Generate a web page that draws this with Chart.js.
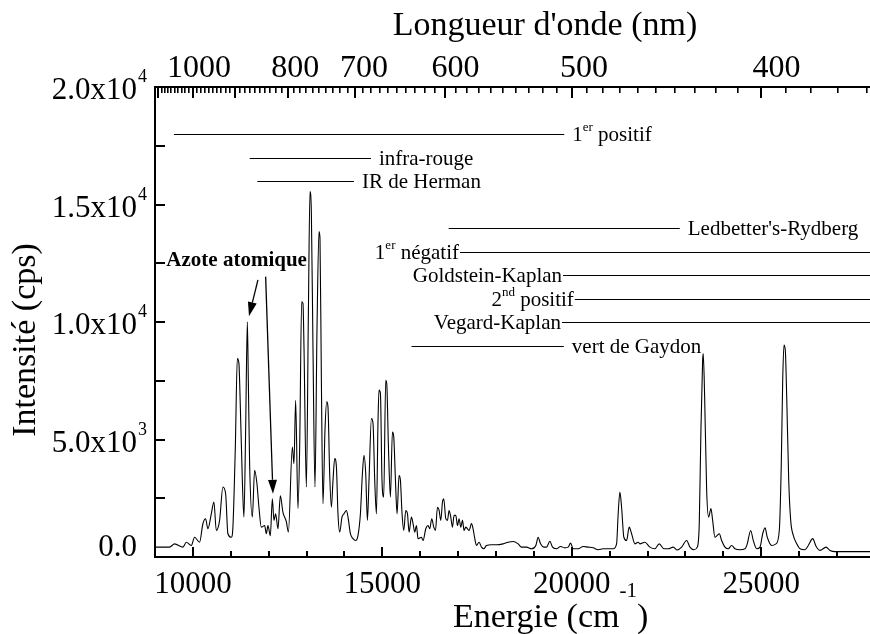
<!DOCTYPE html>
<html>
<head>
<meta charset="utf-8">
<script src="https://cdn.jsdelivr.net/npm/chart.js@4/dist/chart.umd.min.js"></script>
<style>
html,body{margin:0;padding:0;background:#fff;}
#wrap{width:870px;height:634px;position:relative;}
</style>
</head>
<body>
<div id="wrap"><canvas id="c" width="870" height="634"></canvas></div>
<script>
// ---------- data (energy in cm^-1, intensity in cps) ----------
const energy = [
  8990, 9385, 9517, 9736, 9826, 9958, 10045, 10177, 10264, 10335, 10396, 10486, 10555, 10618, 10705,
  10792, 10864, 10924, 11014, 11056, 11120, 11173, 11215, 11233, 11305, 11347, 11392, 11437, 11463,
  11497, 11569, 11629, 11690, 11743, 11806, 11894, 11938, 11981, 12044, 12097, 12139, 12184, 12245,
  12308, 12377, 12467, 12520, 12625, 12667, 12712, 12773, 12818, 12871, 12905, 12932, 12995, 13048,
  13090, 13127, 13169, 13222, 13275, 13328, 13354, 13391, 13433, 13486, 13531, 13565, 13610, 13655,
  13698, 13743, 13788, 13829, 13874, 13935, 13988, 14051, 14094, 14157, 14226, 14297, 14358, 14421,
  14474, 14516, 14561, 14606, 14648, 14712, 14754, 14799, 14844, 14886, 14912, 14949, 14991, 15036,
  15089, 15116, 15161, 15213, 15266, 15301, 15346, 15388, 15441, 15477, 15520, 15565, 15618, 15663,
  15705, 15768, 15810, 15855, 15900, 15942, 16032, 16074, 16146, 16206, 16251, 16304, 16357, 16402,
  16455, 16497, 16542, 16587, 16621, 16674, 16719, 16761, 16806, 16851, 16893, 16938, 16983, 17025,
  17070, 17115, 17157, 17202, 17247, 17289, 17353, 17395, 17440, 17485, 17553, 17617, 17677, 17748,
  17881, 18013, 18187, 18319, 18451, 18583, 18673, 18805, 18937, 19051, 19111, 19175, 19262, 19333,
  19421, 19492, 19598, 19703, 19817, 19904, 19967, 20036, 20168, 20300, 20432, 20564, 20696, 20828,
  20960, 21092, 21182, 21224, 21269, 21314, 21374, 21446, 21515, 21578, 21665, 21752, 21797, 21929,
  22061, 22193, 22307, 22431, 22545, 22677, 22782, 22899, 23031, 23118, 23224, 23311, 23364, 23408,
  23453, 23469, 23506, 23559, 23611, 23672, 23717, 23778, 23839, 23892, 23955, 24042, 24129, 24219,
  24306, 24438, 24570, 24631, 24721, 24790, 24880, 24967, 25038, 25099, 25159, 25275, 25389, 25476,
  25529, 25566, 25600, 25635, 25672, 25725, 25777, 25846, 25936, 26023, 26155, 26242, 26358, 26446,
  26552, 26710, 26815, 26948, 27079, 27870
];
const intensity = [
  420, 420, 560, 420, 630, 490, 840, 630, 1415, 1630, 1200, 1840, 2340, 1130, 1560,
  2980, 2690, 990, 840, 1270, 4680, 8450, 8240, 7520, 3260, 1700, 5390, 10010, 7520,
  3970, 1700, 3690, 3130, 2120, 1270, 1340, 990, 1340, 910, 2480, 1560, 1840, 1200,
  2600, 1900, 1500, 1060, 4680, 3970, 6670, 2060, 4680, 10860, 10790, 8940, 2980, 10370,
  15550, 14630, 8940, 2980, 9660, 13850, 13570, 7520, 2270, 5390, 6600, 6390, 3550, 2120,
  3260, 4190, 3830, 1840, 1060, 1700, 1840, 1980, 1700, 990, 780, 700, 920, 1840,
  3550, 4330, 3550, 1560, 3260, 5890, 5680, 3260, 1840, 5820, 7100, 6960, 3260, 2550,
  7520, 7380, 4680, 2550, 5320, 5110, 3260, 1840, 3470, 3260, 1840, 1130, 1980, 1840,
  1060, 1700, 1420, 1060, 1340, 780, 840, 700, 1200, 1340, 1200, 1630, 1270, 1130,
  2120, 1990, 1560, 2340, 2480, 1630, 1560, 1980, 1700, 1270, 1770, 1770, 1340, 1630,
  1270, 1560, 1130, 1270, 1200, 1130, 1420, 1200, 780, 490, 630, 420, 350, 490,
  520, 520, 560, 630, 660, 560, 420, 420, 350, 490, 840, 560, 420, 420,
  670, 420, 350, 450, 390, 420, 590, 350, 350, 450, 420, 390, 310, 350,
  350, 350, 560, 1840, 2760, 2120, 840, 700, 1270, 990, 560, 630, 560, 630,
  420, 350, 560, 350, 350, 420, 300, 420, 700, 420, 310, 420, 1420, 5390,
  8380, 8660, 6810, 2840, 1700, 2060, 1560, 840, 920, 990, 700, 420, 350, 490,
  350, 310, 350, 560, 1130, 700, 350, 420, 990, 1240, 840, 490, 560, 1130,
  3970, 7520, 9020, 8800, 6810, 3260, 1560, 920, 560, 350, 310, 490, 780, 460,
  280, 420, 280, 230, 230, 230
];

// ---------- axes ----------
const xMin = 9000, xMax = 27870;
const yMin = 0, yMax = 20000;
const xMajorTicks = [10000, 15000, 20000, 25000];
const xMinorStep = 1000;
const yMajorTicks = [0, 5000, 10000, 15000, 20000];
const yMinorStep = 2500;
const yTickMantissa = ['0.0', '5.0x10', '1.0x10', '1.5x10', '2.0x10'];
const yTickExponent = ['', '3', '4', '4', '4'];
const wavelengthLabeled = [1000, 800, 700, 600, 500, 400];
const wavelengthMajor = [1100, 1000, 900, 800, 700, 600, 500, 400];
const wavelengthMinorStep = 10;
const wavelengthFirst = 1110, wavelengthLast = 350;

// ---------- band annotations ----------
const bandNames = ['1^{er} positif', 'infra-rouge', 'IR de Herman', "Ledbetter's-Rydberg",
  '1^{er} négatif', 'Goldstein-Kaplan', '2^{nd} positif', 'Vegard-Kaplan', 'vert de Gaydon'];
const bandStart = [9500, 11500, 11700, 16750, 17050, 19770, 20080, 19740, 15770];
const bandEnd   = [19800, 14700, 14250, 22850, xMax, xMax, xMax, xMax, 19790];
const bandLevel = [18000, 17000, 16000, 14000, 13000, 12000, 11000, 10000, 9000];
const bandLabelSide = ['right', 'right', 'right', 'right', 'left', 'left', 'left', 'left', 'right'];

const noteText = 'Azote atomique';
const noteAt = [9300, 12380];
const arrowFrom = [[11717, 11790], [11920, 11930]];
const arrowTo   = [[11480, 10250], [12113, 2690]];

const FONT = '"Liberation Serif","Times New Roman",Times,serif';
function font(size, bold) { return (bold ? 'bold ' : '') + size + 'px ' + FONT; }

function parseRich(str) {
  const parts = [];
  const re = /\^\{([^}]*)\}/g;
  let last = 0, m;
  while ((m = re.exec(str)) !== null) {
    if (m.index > last) parts.push({t: str.slice(last, m.index), sup: false});
    parts.push({t: m[1], sup: true});
    last = re.lastIndex;
  }
  if (last < str.length) parts.push({t: str.slice(last), sup: false});
  return parts;
}
function drawRich(ctx, str, x, y, size, align, opts) {
  opts = opts || {};
  const supSize = opts.supSize || Math.round(size * 0.62);
  const raise = opts.raise || size * 0.45;
  const parts = parseRich(str);
  let w = 0;
  parts.forEach(p => { ctx.font = font(p.sup ? supSize : size, opts.bold); p.w = ctx.measureText(p.t).width; w += p.w; });
  let cx = align === 'right' ? x - w : (align === 'center' ? x - w / 2 : x);
  ctx.textAlign = 'left';
  ctx.textBaseline = 'alphabetic';
  parts.forEach(p => {
    ctx.font = font(p.sup ? supSize : size, opts.bold);
    ctx.fillText(p.t, cx, p.sup ? y - raise : y);
    cx += p.w;
  });
  return w;
}

const bgPlugin = {
  id: 'bg',
  beforeDraw(chart) {
    const c = chart.ctx; c.save(); c.fillStyle = '#fff'; c.fillRect(0, 0, chart.width, chart.height); c.restore();
  }
};

const decor = {
  id: 'decor',
  afterDraw(chart) {
    const ctx = chart.ctx, xs = chart.scales.x, ys = chart.scales.y, ca = chart.chartArea;
    const top = Math.round(ca.top), bottom = Math.round(ca.bottom), left = Math.round(ca.left), right = Math.round(ca.right);
    ctx.save();
    ctx.strokeStyle = '#000'; ctx.fillStyle = '#000';

    // axis lines (2px)
    ctx.fillRect(left - 1, top - 1, 2, bottom - top + 2);
    ctx.fillRect(left - 1, bottom - 1, right - left + 1, 2);
    ctx.fillRect(left - 1, top - 1, right - left + 1, 2);

    // bottom ticks (inward, pointing up)
    for (let v = Math.ceil(xs.min / xMinorStep) * xMinorStep; v <= xs.max; v += xMinorStep) {
      const px = Math.round(xs.getPixelForValue(v));
      if (px <= left + 2) continue;
      const len = xMajorTicks.includes(v) ? 10 : 6;
      ctx.fillRect(px - 1, bottom - len, 2, len);
    }
    // left ticks (inward, pointing right)
    for (let v = yMin; v <= yMax; v += yMinorStep) {
      const py = Math.round(ys.getPixelForValue(v));
      if (py <= top + 2 || py >= bottom - 2) continue;
      ctx.fillRect(left, py - 1, 10, 2);
    }
    // top ticks (wavelength, inward, pointing down)
    for (let lam = wavelengthFirst; lam >= wavelengthLast; lam -= wavelengthMinorStep) {
      const e = 1e7 / lam;
      if (e < xs.min || e > xs.max) continue;
      const px = Math.round(xs.getPixelForValue(e));
      if (px <= left + 2) continue;
      const major = wavelengthMajor.includes(lam);
      ctx.fillRect(px - 1, top, major ? 2 : 1.6, major ? 11 : 6);
    }

    // bottom tick labels
    ctx.font = font(31);
    ctx.textAlign = 'center'; ctx.textBaseline = 'alphabetic';
    xMajorTicks.forEach(v => ctx.fillText(String(v), xs.getPixelForValue(v), 593));

    // left tick labels
    yMajorTicks.forEach((v, i) => {
      const py = ys.getPixelForValue(v);
      const base = (v === 0 ? py - 1 : py + 12);
      ctx.font = font(31); ctx.textAlign = 'right';
      ctx.fillText(yTickMantissa[i], 137, base);
      if (yTickExponent[i]) {
        ctx.font = font(18); ctx.textAlign = 'left';
        ctx.fillText(yTickExponent[i], 138, base - 17);
      }
    });

    // top tick labels (wavelength in nm)
    ctx.font = font(32); ctx.textAlign = 'center';
    wavelengthLabeled.forEach(lam => {
      const e = 1e7 / lam * 1.016;
      ctx.fillText(String(lam), xs.getPixelForValue(e), 77);
    });

    // titles
    ctx.font = font(34); ctx.textAlign = 'center';
    ctx.fillText("Longueur d'onde (nm)", 545, 35);
    drawRich(ctx, 'Energie (cm^{-1})', 453, 627, 34, 'left', {supSize: 21, raise: 30});
    ctx.save();
    ctx.translate(35, 340);
    ctx.rotate(-Math.PI / 2);
    ctx.font = font(34); ctx.textAlign = 'center';
    ctx.fillText('Intensité (cps)', 0, 0);
    ctx.restore();

    // band lines and labels
    ctx.lineWidth = 1;
    bandNames.forEach((name, i) => {
      const x1 = xs.getPixelForValue(bandStart[i]);
      const x2 = Math.min(xs.getPixelForValue(bandEnd[i]), ca.right);
      const y = Math.round(ys.getPixelForValue(bandLevel[i])) + 0.5;
      ctx.beginPath(); ctx.moveTo(x1, y); ctx.lineTo(x2, y); ctx.stroke();
      if (bandLabelSide[i] === 'right') {
        drawRich(ctx, name, x2 + 8, y + 6.5, 21, 'left', {supSize: 13, raise: 10});
      } else {
        drawRich(ctx, name, x1 - 1, y + 6.5, 21, 'right', {supSize: 13, raise: 10});
      }
    });

    // atomic nitrogen note
    ctx.font = font(21, true); ctx.textAlign = 'left';
    ctx.fillText(noteText, xs.getPixelForValue(noteAt[0]), ys.getPixelForValue(noteAt[1]));

    // arrows
    arrowFrom.forEach((f, i) => {
      const x0 = xs.getPixelForValue(f[0]), y0 = ys.getPixelForValue(f[1]);
      const x1 = xs.getPixelForValue(arrowTo[i][0]), y1 = ys.getPixelForValue(arrowTo[i][1]);
      const ang = Math.atan2(y1 - y0, x1 - x0);
      const hl = 14, hw = 4.5;
      const bx = x1 - hl * Math.cos(ang), by = y1 - hl * Math.sin(ang);
      ctx.lineWidth = 1.3;
      ctx.beginPath(); ctx.moveTo(x0, y0); ctx.lineTo(bx, by); ctx.stroke();
      ctx.beginPath();
      ctx.moveTo(x1, y1);
      ctx.lineTo(bx + hw * Math.sin(ang), by - hw * Math.cos(ang));
      ctx.lineTo(bx - hw * Math.sin(ang), by + hw * Math.cos(ang));
      ctx.closePath(); ctx.fill();
    });

    ctx.restore();
  }
};

new Chart(document.getElementById('c'), {
  type: 'line',
  data: {
    datasets: [{
      data: energy.map((e, i) => ({x: e, y: intensity[i]})),
      borderColor: '#000',
      borderWidth: 1.1,
      pointRadius: 0,
      fill: false,
      cubicInterpolationMode: 'monotone'
    }]
  },
  options: {
    responsive: false,
    animation: false,
    devicePixelRatio: 1,
    layout: {padding: {left: 155, right: 0, top: 87, bottom: 77}},
    scales: {
      x: {type: 'linear', min: xMin, max: xMax, display: false},
      y: {type: 'linear', min: yMin, max: yMax, display: false}
    },
    plugins: {legend: {display: false}, tooltip: {enabled: false}}
  },
  plugins: [bgPlugin, decor]
});
</script>
</body>
</html>
